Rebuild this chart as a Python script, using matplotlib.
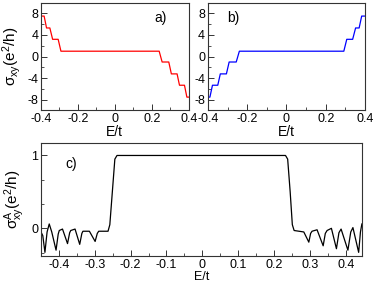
import numpy as np
import matplotlib
matplotlib.use("Agg")
import matplotlib.pyplot as plt
from matplotlib.ticker import MultipleLocator

plt.rcParams['font.family'] = ['Liberation Sans', 'DejaVu Sans']
plt.rcParams['mathtext.fontset'] = 'custom'
plt.rcParams['mathtext.rm'] = 'Liberation Sans'
plt.rcParams['mathtext.it'] = 'Liberation Sans'

# panel a) sigma_xy, red
E_a = [-0.4, -0.383, -0.370, -0.352, -0.337, -0.307, -0.292, 0.240, 0.256,
       0.292, 0.306, 0.337, 0.350, 0.377, 0.390, 0.4]
S_a = [7.5, 7.5, 5.3, 5.3, 3.2, 3.2, 1.0, 1.0, -1.0,
       -1.0, -3.2, -3.2, -5.3, -5.3, -7.5, -7.5]

# panel b) sigma_xy, blue
E_b = [-0.4, -0.390, -0.377, -0.350, -0.337, -0.306, -0.292, -0.256, -0.240,
       0.292, 0.307, 0.337, 0.352, 0.370, 0.383, 0.4]
S_b = [-7.5, -7.5, -5.3, -5.3, -3.2, -3.2, -1.0, -1.0, 1.0,
       1.0, 3.2, 3.2, 5.3, 5.3, 7.5, 7.5]

# panel c) sigma^A_xy, black
E_c = [-0.45, -0.445, -0.439, -0.433, -0.427, -0.42, -0.408, -0.402, -0.399, -0.39,
       -0.376, -0.370, -0.367, -0.355, -0.342, -0.336, -0.333, -0.315, -0.299, -0.293,
       -0.289, -0.263, -0.258, -0.251, -0.244, -0.238, 0.232, 0.238, 0.245, 0.251,
       0.256, 0.283, 0.297, 0.302, 0.306, 0.32, 0.337, 0.343, 0.348, 0.36,
       0.374, 0.381, 0.387, 0.406, 0.414, 0.42, 0.436, 0.441, 0.445]
S_c = [-0.05, -0.1, -0.33, -0.05, 0.06, -0.05, -0.30, -0.08, -0.03, -0.01,
       -0.21, -0.06, -0.03, -0.01, -0.22, -0.07, -0.04, -0.04, -0.18, -0.07,
       -0.04, -0.04, 0.05, 0.5, 0.95, 1.0, 1.0, 0.95, 0.5, 0.05,
       -0.03, -0.05, -0.19, -0.07, -0.04, -0.02, -0.24, -0.07, -0.03, 0.0,
       -0.28, -0.06, -0.01, -0.30, -0.05, 0.01, -0.33, -0.05, 0.06]

fig = plt.figure(figsize=(3.74, 2.83), dpi=100)
ax_a = fig.add_axes([0.1096, 0.611, 0.395, 0.378])
ax_b = fig.add_axes([0.556, 0.611, 0.420, 0.378])
ax_c = fig.add_axes([0.1096, 0.0954, 0.858, 0.399])

def style(ax):
    for s in ax.spines.values():
        s.set_linewidth(0.8)
        s.set_color('#333333')
    ax.tick_params(which='both', direction='in', top=False, right=False,
                   labelsize=9, pad=2, color='#333333')
    ax.tick_params(which='major', length=4, width=0.7)
    ax.tick_params(which='minor', length=2, width=0.6)

ax_a.plot(E_a, S_a, color='red', lw=0.9)
ax_b.plot(E_b, S_b, color='blue', lw=0.9)
for ax in (ax_a, ax_b):
    ax.set_xlim(-0.4, 0.4)
    ax.set_ylim(-9.9, 9.9)
    ax.xaxis.set_major_locator(MultipleLocator(0.2))
    ax.xaxis.set_minor_locator(MultipleLocator(0.1))
    ax.yaxis.set_major_locator(MultipleLocator(4))
    ax.yaxis.set_minor_locator(MultipleLocator(2))
    style(ax)
    ax.set_xticks([-0.4, -0.2, 0, 0.2, 0.4])
    ax.set_xticklabels(['-0.4', '-0.2', '0', '0.2', '0.4'])
    ax.set_yticks([-8, -4, 0, 4, 8])
    ax.set_yticklabels(['-8', '-4', '0', '4', '8'])
    ax.set_xlabel('E/t', fontsize=10, labelpad=0)

ax_a.set_ylabel(r'$\mathregular{\sigma_{xy}(e^2/h)}$', fontsize=11)
ax_a.yaxis.set_label_coords(-0.125, 0.5)
ax_a.text(0.77, 0.93, 'a)', transform=ax_a.transAxes, fontsize=10, va='top')
ax_b.text(0.12, 0.93, 'b)', transform=ax_b.transAxes, fontsize=10, va='top')

ax_c.plot(E_c, S_c, color='black', lw=0.9)
ax_c.set_xlim(-0.45, 0.445)
ax_c.set_ylim(-0.38, 1.17)
ax_c.xaxis.set_major_locator(MultipleLocator(0.1))
ax_c.xaxis.set_minor_locator(MultipleLocator(0.05))
ax_c.yaxis.set_major_locator(MultipleLocator(1))
ax_c.yaxis.set_minor_locator(MultipleLocator(1 / 3))
style(ax_c)
ax_c.set_xticks([-0.4, -0.3, -0.2, -0.1, 0, 0.1, 0.2, 0.3, 0.4])
ax_c.set_xticklabels(['-0.4', '-0.3', '-0.2', '-0.1', '0', '0.1', '0.2', '0.3', '0.4'])
ax_c.set_yticks([0, 1])
ax_c.set_yticklabels(['0', '1'])
ax_c.set_xlabel('E/t', fontsize=9, labelpad=0)
ax_c.set_ylabel(r'$\mathregular{\sigma^A_{xy}(e^2/h)}$', fontsize=11)
ax_c.yaxis.set_label_coords(-0.045, 0.5)
ax_c.text(0.075, 0.88, 'c)', transform=ax_c.transAxes, fontsize=10, va='top')

fig.savefig('out.png', dpi=100)
